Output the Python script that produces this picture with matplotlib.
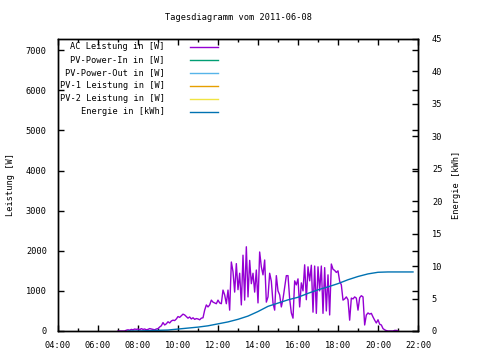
import numpy as np
import matplotlib
matplotlib.use("Agg")
import matplotlib.pyplot as plt

TITLE = "Tagesdiagramm vom 2011-06-08"

# AC power in W, every 5 minutes from 07:00 to 21:00
ac_start, ac_step_min = 7.0, 5
ac_power = [
    0, 0, 0, 0, 0, 20, 30, 20, 40, 30, 50, 40,                              # 07
    50, 30, 60, 40, 50, 30, 40, 60, 50, 40, 30, 50,                         # 08
    60, 100, 130, 210, 150, 180, 230, 200, 250, 270, 260, 300,              # 09
    360, 340, 380, 420, 400, 360, 320, 350, 300, 330, 290, 310,             # 10
    300, 280, 320, 330, 520, 650, 600, 650, 770, 720, 700, 680,             # 11
    770, 700, 680, 1020, 900, 680, 1020, 520, 1720, 1480, 970, 1680,        # 12
    1030, 1440, 650, 1890, 770, 2100, 850, 1760, 1180, 1440, 970, 1520,     # 13
    700, 1970, 1600, 1400, 1770, 720, 850, 1440, 1240, 700, 520, 1380,      # 14
    1000, 900, 600, 800, 1100, 1380, 1380, 800, 450, 320, 1250, 1150,       # 15
    1300, 600, 1200, 1000, 1650, 780, 1600, 1250, 1640, 470, 1620, 440,     # 16
    1600, 1000, 1620, 440, 1580, 500, 1400, 400, 1670, 1540, 1510, 1460,    # 17
    1500, 1240, 1150, 770, 800, 850, 780, 270, 820, 800, 850, 820,          # 18
    520, 830, 880, 850, 150, 400, 450, 420, 440, 350, 270, 200,             # 19
    280, 170, 150, 60, 30, 10, 0, 0, 0, 0, 15, 15,                          # 20
    0,                                                                      # 21
]

# cumulative energy in kWh
energy_time = [7.5, 8.0, 8.5, 9.0, 9.5, 10.0, 10.5, 11.0, 11.5, 12.0, 12.5, 13.0,
               13.5, 14.0, 14.5, 15.0, 15.5, 16.0, 16.5, 17.0, 17.5, 18.0, 18.5,
               19.0, 19.5, 20.0, 20.5, 21.0, 21.75]
energy_kwh = [0.0, 0.0, 0.05, 0.1, 0.15, 0.3, 0.45, 0.6, 0.8, 1.1, 1.4, 1.8,
              2.3, 3.0, 3.8, 4.3, 4.8, 5.2, 5.8, 6.35, 6.8, 7.3, 7.9,
              8.4, 8.8, 9.05, 9.1, 9.1, 9.1]

SERIES = [
    ("AC Leistung in [W]", "#9400D3"),
    ("PV-Power-In in [W]", "#009E73"),
    ("PV-Power-Out in [W]", "#56B4E9"),
    ("PV-1 Leistung in [W]", "#E69F00"),
    ("PV-2 Leistung in [W]", "#F0E442"),
    ("Energie in [kWh]", "#0072B2"),
]

x_ticks = [4, 6, 8, 10, 12, 14, 16, 18, 20, 22]
x_labels = ["%02d:00" % h for h in x_ticks]

plt.rcParams.update({
    "font.family": "DejaVu Sans Mono",
    "font.size": 6.2,
    "axes.linewidth": 1.0,
})

fig = plt.figure(figsize=(4.8, 3.6), dpi=100)
ax = fig.add_axes([58 / 480, 29 / 360, 360 / 480, 292 / 360])
ax2 = ax.twinx()

t_ac = ac_start + np.arange(len(ac_power)) * ac_step_min / 60.0
ax.plot(t_ac, ac_power, color=SERIES[0][1], lw=1.0)
ax2.plot(energy_time, energy_kwh, color=SERIES[5][1], lw=1.0)

ax.set_xlim(4, 22)
ax.set_ylim(0, 7280)
ax2.set_ylim(0, 45)
ax.set_xticks(x_ticks)
ax.set_xticklabels(x_labels)
ax.set_xticks(range(5, 22, 2), minor=True)
ax.set_yticks(range(0, 7001, 1000))
ax2.set_yticks(range(0, 46, 5))

ax.tick_params(axis="both", which="major", direction="in", length=4, width=1,
               top=True, right=True, pad=8)
ax.tick_params(axis="x", which="major", pad=7)
ax.tick_params(axis="x", which="minor", direction="in", length=2, width=1, top=True)
ax2.tick_params(axis="y", direction="in", length=4, width=1, pad=10)

ax.set_ylabel("Leistung [W]")
ax.yaxis.set_label_coords(-0.12, 0.5)
ax2.set_ylabel("Energie [kWh]")
ax2.yaxis.set_label_coords(1.094, 0.5)
fig.text(0.496, 0.95, TITLE, ha="center", va="center")

# gnuplot style key: right aligned text, line sample to the right
for i, (name, color) in enumerate(SERIES):
    y = 0.974 - i * 0.0445
    ax.text(0.297, y, name, transform=ax.transAxes, ha="right", va="center")
    ax.plot([0.367, 0.444], [y, y], transform=ax.transAxes, color=color, lw=1.0)

fig.savefig("out.png", dpi=100)
